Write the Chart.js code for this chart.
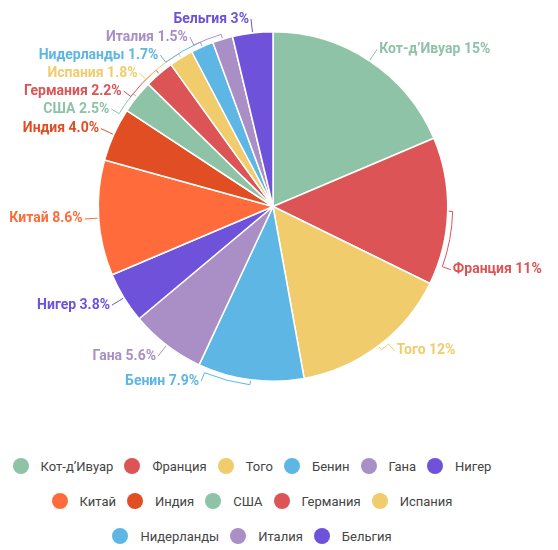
<!DOCTYPE html>
<html>
<head>
<meta charset="utf-8">
<script src="https://cdn.jsdelivr.net/npm/chart.js@4.4.1/dist/chart.umd.min.js"></script>
<style>
  html, body { margin: 0; padding: 0; background: #fff; }
  #wrap { position: relative; width: 558px; height: 550px; }
  #chart-box { position: absolute; left: 0; top: 0; width: 558px; height: 420px; }
  #legend {
    position: absolute; left: 2px; top: 458px; width: 500px;
    display: flex; flex-wrap: wrap; justify-content: center;
    column-gap: 11px; row-gap: 19px;
    font: 13px Roboto, sans-serif; color: #444;
  }
  .item { display: flex; align-items: center; height: 16px; white-space: nowrap; }
  .dot { width: 16px; height: 16px; border-radius: 50%; margin-right: 12px; }
</style>
</head>
<body>
<div id="wrap">
  <div id="chart-box"><canvas id="pie"></canvas></div>
  <div id="legend"></div>
</div>
<script>
/* global Chart */

// data
const countries = ['Кот-д’Ивуар', 'Франция', 'Того', 'Бенин', 'Гана', 'Нигер', 'Китай',
  'Индия', 'США', 'Германия', 'Испания', 'Нидерланды', 'Италия', 'Бельгия'];
const shares = [15, 11, 12, 7.9, 5.6, 3.8, 8.6, 4.0, 2.5, 2.2, 1.8, 1.7, 1.5, 3];
const shareText = ['15%', '11%', '12%', '7.9%', '5.6%', '3.8%', '8.6%',
  '4.0%', '2.5%', '2.2%', '1.8%', '1.7%', '1.5%', '3%'];
const colors = ['#8ec3a7', '#dc5456', '#f0cc6c', '#5eb6e4', '#a98fc6', '#6e52d9', '#ff6b3a',
  '#e24e24', '#8ec3a7', '#dc5456', '#f0cc6c', '#5eb6e4', '#a98fc6', '#6e52d9'];

// labels outside the pie, with leader lines running round the edge
const outsideLabels = {
  id: 'outsideLabels',
  afterDatasetsDraw(chart, args, opts) {
    const ctx = chart.ctx;
    const arcs = chart.getDatasetMeta(0).data;
    if (!arcs.length) return;
    const cx = arcs[0].x;
    const cy = arcs[0].y;
    const R = arcs[0].outerRadius;
    const rl = R + opts.distance;

    const items = arcs.map((arc, i) => {
      const mid = (arc.startAngle + arc.endAngle) / 2;
      const a = mid + ((opts.shift[i] || 0) * Math.PI) / 180;
      return { i, mid, y: cy + rl * Math.sin(a), right: Math.cos(a) >= 0 };
    });

    [true, false].forEach((side) => {
      const list = items.filter((it) => it.right === side).sort((p, q) => p.y - q.y);
      for (let k = 1; k < list.length; k++) {
        if (list[k].y - list[k - 1].y < opts.spacing) {
          list[k].y = list[k - 1].y + opts.spacing;
        }
      }
    });

    ctx.save();
    ctx.font = opts.font;
    ctx.textBaseline = 'middle';
    ctx.lineWidth = 1;
    items.forEach((it) => {
      const dy = it.y - cy;
      const dx = Math.sqrt(Math.max(rl * rl - dy * dy, 0));
      const x = it.right ? cx + dx : cx - dx;
      const la = Math.atan2(dy, x - cx);
      let diff = la - it.mid;
      while (diff > Math.PI) diff -= 2 * Math.PI;
      while (diff < -Math.PI) diff += 2 * Math.PI;
      const rb = R + 5;
      const color = colors[it.i];

      ctx.strokeStyle = color;
      ctx.beginPath();
      ctx.moveTo(cx + (R + 1) * Math.cos(it.mid), cy + (R + 1) * Math.sin(it.mid));
      ctx.arc(cx, cy, rb, it.mid, it.mid + diff, diff < 0);
      ctx.lineTo(x, it.y);
      ctx.stroke();

      ctx.fillStyle = color;
      ctx.textAlign = it.right ? 'left' : 'right';
      ctx.fillText(countries[it.i] + ' ' + shareText[it.i], it.right ? x + 2 : x - 2, it.y);
    });
    ctx.restore();
  },
};

new Chart('pie', {
  type: 'pie',
  data: {
    labels: countries,
    datasets: [
      {
        data: shares,
        backgroundColor: colors,
        borderColor: '#ffffff',
        borderWidth: 1.5,
      },
    ],
  },
  options: {
    responsive: true,
    maintainAspectRatio: false,
    animation: false,
    layout: { padding: { top: 31, bottom: 38, left: 80, right: 92 } },
    plugins: {
      legend: { display: false },
      tooltip: { enabled: false },
      outsideLabels: {
        distance: 14,
        spacing: 18,
        font: 'bold 14px Roboto, sans-serif',
        shift: { 1: 18, 2: -3, 3: 15 },
      },
    },
  },
  plugins: [outsideLabels],
});

// legend
const legend = document.getElementById('legend');
countries.forEach((name, i) => {
  const item = document.createElement('div');
  item.className = 'item';
  const dot = document.createElement('span');
  dot.className = 'dot';
  dot.style.background = colors[i];
  const text = document.createElement('span');
  text.textContent = name;
  item.appendChild(dot);
  item.appendChild(text);
  legend.appendChild(item);
});
</script>
</body>
</html>
